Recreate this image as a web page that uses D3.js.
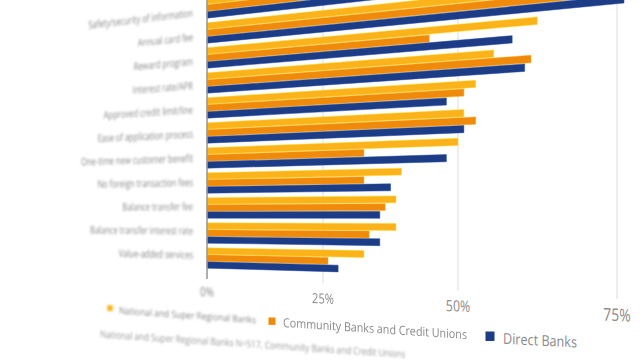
<!DOCTYPE html>
<html><head><meta charset="utf-8">
<script src="https://cdn.jsdelivr.net/npm/d3@7"></script>
<style>html,body{margin:0;padding:0;background:#fff;overflow:hidden}svg{display:block;font-family:"Open Sans",sans-serif}</style>
</head><body><svg id="c" width="640" height="360"></svg>
<script>
// ---------- data ----------
const categories = ["Safety/security of information","Annual card fee","Reward program","Interest rate/APR","Approved credit limit/line","Ease of application process","One-time new customer benefit","No foreign transaction fees","Balance transfer fee","Balance transfer interest rate","Value-added services"];
const seriesNames = ["National and Super Regional Banks","Community Banks and Credit Unions","Direct Banks"];
const nationalValues  = [82, 70, 63, 56, 53, 51, 50, 40, 39, 39, 33];
const communityValues = [80, 72, 45, 62, 51, 53, 33, 33, 37, 34, 26];
const directValues    = [84, 76, 59, 61, 48, 51, 48, 38, 36, 36, 28];
const tickValues = [0, 25, 50, 75];
const tickLabels = ["0%", "25%", "50%", "75%"];
const footnote = "National and Super Regional Banks N=517, Community Banks and Credit Unions";

// ---------- style / layout ----------
const colors = ["#FBB21B", "#EF8A0C", "#1C3C86"];
const AXIS_X = 207, PERSP = 0.000652;

const svg = d3.select("#c");
const defs = svg.append("defs");
defs.append("filter").attr("id","b1").attr("filterUnits","userSpaceOnUse").attr("x",-50).attr("y",-20).attr("width",740).attr("height",420)
  .append("feGaussianBlur").attr("stdDeviation", 1.0);
defs.append("filter").attr("id","b2").attr("filterUnits","userSpaceOnUse").attr("x",-50).attr("y",-20).attr("width",740).attr("height",420)
  .append("feGaussianBlur").attr("stdDeviation", 0.5);

// flat scales
const x = d3.scaleLinear().domain([0, 100]).range([0, 431.4]);
const y = d3.scaleBand().domain(categories).range([-2.5, 268.5]).paddingInner(0.16).paddingOuter(0);
const ySub = d3.scaleBand().domain(d3.range(seriesNames.length)).range([0, y.bandwidth()]).padding(0);

// perspective projection of the flat chart
const px = u => AXIS_X + u / (1 - PERSP * u);
const slopeAt = y0 => -0.088 + 0.000555 * (y0 - 58);
const proj = (u, y0) => { const X = px(u); return [X, y0 + slopeAt(y0) * (X - AXIS_X)]; };
const tf = (tx, ty, slope, sx) => `translate(${tx},${ty}) skewY(${Math.atan(slope) * 180 / Math.PI}) scale(${sx},1)`;

const series = [nationalValues, communityValues, directValues];

// gridlines
const gridBottom = X => 277 + 0.054 * (X - AXIS_X);
svg.append("g").selectAll("line").data(tickValues.filter(d => d > 0)).join("line")
  .attr("x1", d => px(x(d))).attr("x2", d => px(x(d)))
  .attr("y1", -5).attr("y2", d => gridBottom(px(x(d))))
  .attr("stroke", "#dcdcdc").attr("stroke-width", 1);

// bars
const bars = [];
categories.forEach((c, i) => series.forEach((vals, j) => bars.push({c, j, v: vals[i]})));
svg.append("g").selectAll("path").data(bars).join("path")
  .attr("d", d => {
    const yt = y(d.c) + ySub(d.j) + 0.35, yb = yt + ySub.bandwidth() - 0.7, u = x(d.v);
    return "M" + [proj(0, yt), proj(u, yt), proj(u, yb), proj(0, yb)].map(p => p.join(",")).join("L") + "Z";
  })
  .attr("fill", d => colors[d.j])
  .attr("stroke", d => d3.color(colors[d.j]).brighter(0.6)).attr("stroke-width", 0.5);

// axis line at 0
svg.append("line").attr("x1", px(x(0))).attr("x2", px(x(0))).attr("y1", -5).attr("y2", gridBottom(AXIS_X) + 2)
  .attr("stroke", "#9a9a9a").attr("stroke-width", 1.6);

// category labels
const labelY = c => 164 + (y(c) + y.bandwidth() / 2 - 164) * 0.968;
svg.append("g").attr("filter", "url(#b1)").selectAll("text").data(categories).join("text")
  .attr("transform", c => tf(193, labelY(c), slopeAt(y(c) + y.bandwidth() / 2), 0.72))
  .attr("text-anchor", "end").attr("dy", "0.35em")
  .attr("font-size", 10.5).attr("fill", "#8a8a8a").text(c => c);

// tick labels (each wrapped in an untransformed group so the blur region is in chart space)
svg.append("g").selectAll("g").data(tickValues).join("g")
  .attr("filter", d => d < 10 ? "url(#b1)" : (d < 40 ? "url(#b2)" : null))
  .each(function(d, i) {
    const X = px(x(d)), w = 1 - PERSP * x(d);
    d3.select(this).append("text")
      .attr("transform", tf(X, 292 + 0.056 * (X - AXIS_X), 0.04, 0.8))
      .attr("text-anchor", "middle").attr("dy", "0.35em")
      .attr("font-size", 12.5 * Math.pow(1 / w, 1.4))
      .attr("fill", "#8a8a8a")
      .text(tickLabels[i]);
  });

// legend
const legendLayout = [
  {sx: 110, sy: 308, size: 5.5, tx: 119, ty: 310.5, slope: 0.068, fs: 9.5, len: 137, blur: "url(#b1)"},
  {sx: 272, sy: 321, size: 7, tx: 283, ty: 322.5, slope: 0.066, fs: 12.5, len: 184, blur: "url(#b2)"},
  {sx: 490, sy: 336, size: 9, tx: 503, ty: 338.5, slope: 0.05, fs: 15, len: 74, blur: null}
];
const lg = svg.append("g").selectAll("g").data(seriesNames).join("g").attr("filter", (d, i) => legendLayout[i].blur);
lg.append("rect")
  .attr("x", (d, i) => legendLayout[i].sx - legendLayout[i].size / 2)
  .attr("y", (d, i) => legendLayout[i].sy - legendLayout[i].size / 2)
  .attr("width", (d, i) => legendLayout[i].size).attr("height", (d, i) => legendLayout[i].size * 1.05)
  .attr("fill", (d, i) => colors[i]);
lg.append("text")
  .attr("transform", (d, i) => tf(legendLayout[i].tx, legendLayout[i].ty, legendLayout[i].slope, 1))
  .attr("dy", "0.35em").attr("font-size", (d, i) => legendLayout[i].fs)
  .attr("textLength", (d, i) => legendLayout[i].len).attr("lengthAdjust", "spacingAndGlyphs")
  .attr("fill", "#8a8a8a").text(d => d);

// footnote
svg.append("g").attr("filter", "url(#b1)").append("text")
  .attr("transform", tf(100, 334, 0.066, 0.82))
  .attr("dy", "0.35em").attr("font-size", 10).attr("fill", "#9a9a9a").text(footnote);
</script></body></html>
